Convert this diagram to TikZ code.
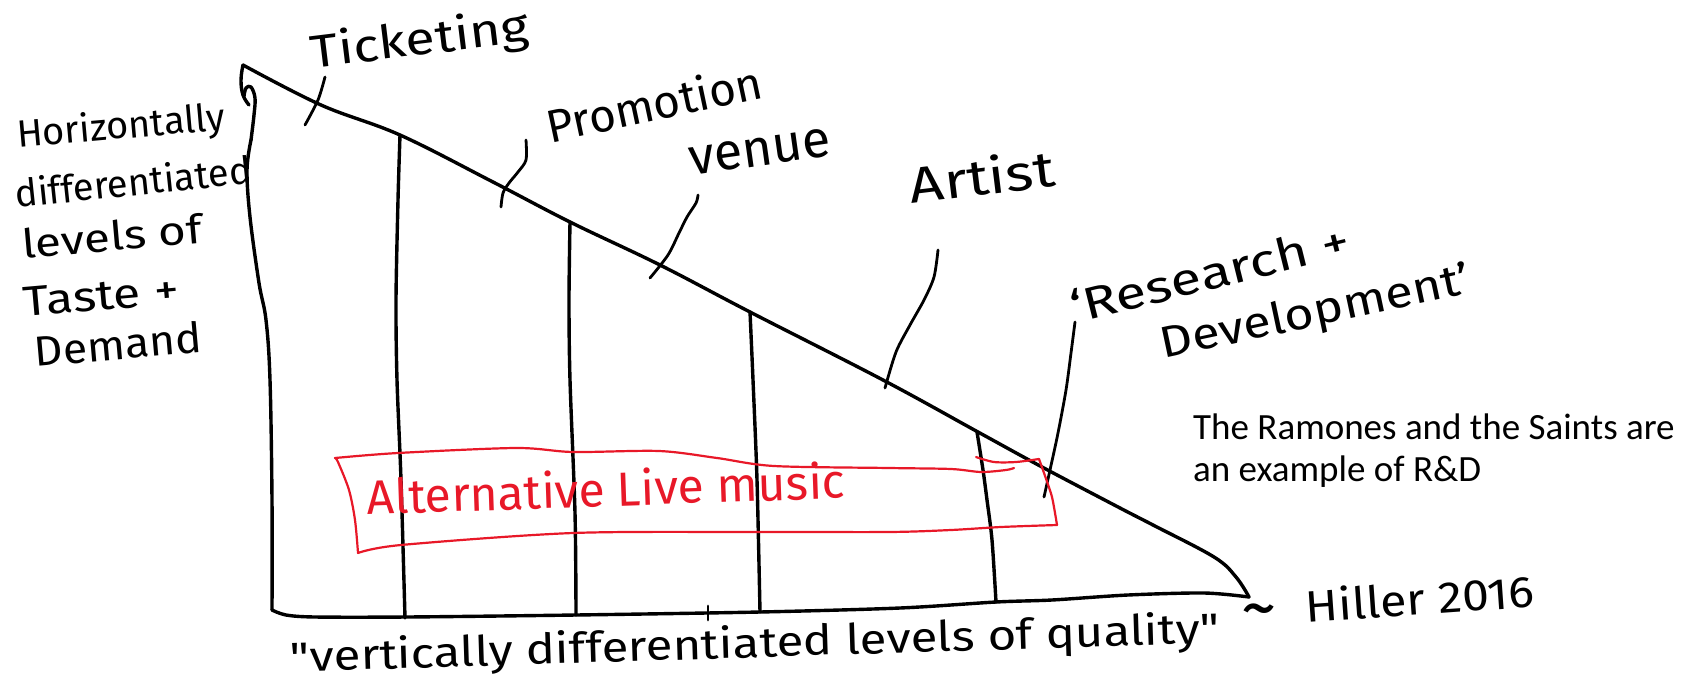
\documentclass[tikz,border=0pt]{standalone}
\usepackage{fontspec}
\setmainfont{Carlito}
\newfontfamily\hand{Fira Sans}
\definecolor{penred}{RGB}{232,24,40}
\newcommand{\hsz}[2]{\hand\fontsize{#1}{#1}\selectfont}
\begin{document}
\begin{tikzpicture}[x=1pt,y=-1pt,
  pen/.style={line width=3.4pt, line cap=round, line join=round},
  leader/.style={line width=2.8pt, line cap=round, line join=round},
  redpen/.style={draw=penred, line width=2.2pt, line cap=round, line join=round},
  hw/.style={inner sep=0pt},
  typed/.style={font=\fontsize{37}{42}\selectfont, inner sep=0pt, anchor=base west}]
\fill[white] (0,0) rectangle (1694,680);
\useasboundingbox (0,0) rectangle (1694,680);

% triangle
\draw[pen] plot[smooth, tension=0.6] coordinates {(243,65) (321,105) (400,135) (493,182) (570,222) (660,265) (750,312) (883,380) (978,432) (1042,467) (1120,508) (1153,525) (1214,557) (1236,577) (1249,597)};
\draw[pen] plot[smooth, tension=0.7] coordinates {(243,65) (241,80) (243,95) (249,105)};
\draw[pen] plot[smooth, tension=0.6] coordinates {(251,140) (254,115) (255,98) (251,87) (246,88) (244,96)};
\draw[pen] plot[smooth, tension=0.6] coordinates {(251,140) (247,170) (250,217) (259,283) (266,320) (270,380) (272,500) (272,610)};
\draw[pen] plot[smooth, tension=0.5] coordinates {(272,610) (286,615) (315,617) (407,617) (576,615) (760,612) (900,608) (996,602) (1052,600) (1128,595) (1204,593) (1249,597)};

% vertical dividers
\draw[pen] plot[smooth] coordinates {(400,135) (398,200) (396,300) (397,380) (401,480) (405,618)};
\draw[pen] plot[smooth] coordinates {(570,222) (569,300) (570,380) (575,513) (576,615)};
\draw[pen] plot[smooth] coordinates {(750,312) (753,380) (757,480) (760,612)};
\draw[pen] plot[smooth] coordinates {(977,432) (983,470) (987,500) (992,540) (996,602)};
\draw[leader] (708,606) -- (708,620);

% labels
\node[hw, font=\hsz{46}{}, rotate=7] (tick) at (420,42) {\scalebox{1.17}[1]{Ticketing}};
\node[hw, font=\hsz{46}{}, rotate=12] (promo) at (654,103) {Promotion};
\node[hw, font=\hsz{52}{}, rotate=8] (venue) at (760,152) {venue};
\node[hw, font=\hsz{50}{}, rotate=7] (artist) at (982,176) {\scalebox{1.2}[1]{Artist}};
\node[hw, font=\hsz{45}{}, rotate=14] (res) at (1210,273) {\scalebox{1.25}[1]{‘Research +}};
\node[hw, font=\hsz{44}{}, rotate=12] (dev) at (1316,314) {\scalebox{1.15}[1]{Development’}};

% leaders
\draw[leader] plot[smooth] coordinates {(325,77) (318,100) (305,125)};
\draw[leader] plot[smooth] coordinates {(526,140) (526,160) (518,172) (509,183) (503,193) (501,207)};
\draw[leader] plot[smooth] coordinates {(698,195) (696,203) (687,217) (679,233) (668,255) (650,278)};
\draw[leader] plot[smooth] coordinates {(938,250) (934,277) (924,300) (910,325) (896,352) (885,388)};
\draw[leader] plot[smooth] coordinates {(1075,322) (1071,353) (1066,390) (1058,433) (1050,470) (1044,497)};

% left label
\node[hw, font=\hsz{38}{}, rotate=5] (h1) at (121,128) {Horizontally};
\node[hw, font=\hsz{38}{}, rotate=6] (h2) at (133,181) {differentiated};
\node[hw, font=\hsz{40}{}, rotate=5] (h3) at (112,236) {\scalebox{1.19}[1]{levels of}};
\node[hw, font=\hsz{42}{}, rotate=5] (h4) at (101,296) {\scalebox{1.19}[1]{Taste +}};
\node[hw, font=\hsz{42}{}, rotate=5] (h5) at (118,344) {\scalebox{1.06}[1]{Demand}};

% red box
\draw[redpen] plot[smooth, tension=0.5] coordinates {(335,458) (398,453) (516,448) (573,452) (659,451) (717,458) (774,466) (889,468) (951,469) (981,472) (1006,470) (1014,468)};
\draw[redpen] plot[smooth, tension=0.5] coordinates {(976,457) (994,462) (1016,462) (1039,459)};
\draw[redpen] plot[smooth, tension=0.4] coordinates {(1039,459) (1044,473) (1052,497) (1057,525)};
\draw[redpen] plot[smooth, tension=0.5] coordinates {(1057,525) (1001,527) (951,530) (889,532) (757,532) (573,533) (401,545) (358,553)};
\draw[redpen] plot[smooth, tension=0.5] coordinates {(358,553) (355,520) (349,490) (338,462) (335,458)};
\node[hw, text=penred, font=\hsz{48}{}, rotate=2] (alt) at (606,488) {Alternative Live music};

% bottom caption
\node[hw, font=\hsz{42}{}, rotate=1.8, text height=31pt, text depth=8pt] (vq) at (755,646) {\scalebox{1.17}[1]{"vertically differentiated levels of quality"}};
\node[hw, font=\hsz{72}{}] (tilde) at (1259,618) {\char"007E};
\node[hw, font=\hsz{44}{}, rotate=4] (hiller) at (1420,598) {\scalebox{1.1}[1]{Hiller 2016}};

% typed note
\node[typed] (n1) at (1193,439) {The Ramones and the Saints are};
\node[typed] (n2) at (1193,481) {an example of R\&D};
\end{tikzpicture}
\end{document}
